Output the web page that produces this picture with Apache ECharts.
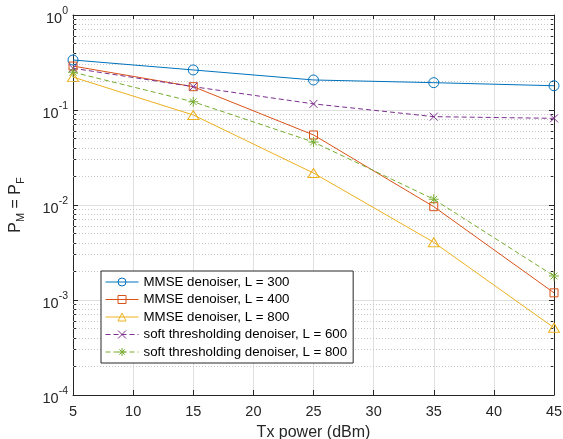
<!DOCTYPE html>
<html><head><meta charset="utf-8">
<script src="https://cdn.jsdelivr.net/npm/echarts@6/dist/echarts.min.js"></script>
<style>html,body{margin:0;padding:0;background:#fff}#c{width:563px;height:439px}</style>
</head><body><div id="c"></div>
<script>
const txPower = [5, 15, 25, 35, 45];
const mmseL300 = [0.336, 0.264, 0.207, 0.194, 0.180];
const mmseL400 = [0.290, 0.176, 0.0546, 0.0096, 0.00119];
const mmseL800 = [0.222, 0.0886, 0.0217, 0.00405, 0.00051];
const softL600 = [0.275, 0.176, 0.116, 0.0851, 0.0817];
const softL800 = [0.250, 0.122, 0.046, 0.0115, 0.00179];
const seriesNames = ['MMSE denoiser, L = 300', 'MMSE denoiser, L = 400', 'MMSE denoiser, L = 800',
  'soft thresholding denoiser, L = 600', 'soft thresholding denoiser, L = 800'];
const minorVals = [];
for (let d = -4; d < 0; d++) for (let k = 2; k <= 9; k++) minorVals.push(+(k * Math.pow(10, d)).toPrecision(3));

const FONT = '"Liberation Sans", Arial, Helvetica, sans-serif';
const TXT = '#262626';
const AX = '#262626';
const colors = ['#0072BD', '#D95319', '#EDB120', '#7E2F8E', '#77AC30'];
const symCircle = 'path://M10,5A5,5,0,1,1,0,5A5,5,0,1,1,10,5Z';
const symSquare = 'path://M0,0L10,0L10,10L0,10Z';
const symTri = 'path://M5,0L10,9L0,9Z';
const symX = 'path://M0,0L10,10M10,0L0,10';
const symStar = 'path://M5,0L5,10M0,5L10,5M1.6,1.6L8.4,8.4M8.4,1.6L1.6,8.4';

function pts(arr) { return txPower.map((x, i) => [x, arr[i]]); }
function mk(name, arr, color, symbol, size, dashed) {
  return {
    name, type: 'line', data: pts(arr), xAxisIndex: 0, yAxisIndex: 0,
    symbol, symbolSize: size, showAllSymbol: true,
    lineStyle: { color, width: 1, type: dashed ? [5, 3] : 'solid' },
    itemStyle: { color: 'rgba(0,0,0,0)', borderColor: color, borderWidth: 1 },
    emphasis: { disabled: true }, z: 3
  };
}

const chart = echarts.init(document.getElementById('c'), null, { renderer: 'canvas' });
const hiddenAxisBase = { type: 'log', logBase: 10, min: 1e-4, max: 1, axisLabel: { show: false }, splitLine: { show: false } };
chart.setOption({
  animation: false,
  backgroundColor: '#fff',
  textStyle: { fontFamily: FONT },
  grid: { left: 73, right: 9, top: 15, bottom: 44, containLabel: false, outerBoundsMode: 'none' },
  legend: {
    orient: 'vertical', left: 101, top: 271,
    data: seriesNames,
    backgroundColor: '#fff', borderColor: AX, borderWidth: 1,
    padding: [4, 6, 4, 4], itemWidth: 33, itemHeight: 10, itemGap: 3.5,
    lineStyle: { width: 1 },
    itemStyle: { borderWidth: 1 },
    textStyle: { fontFamily: FONT, fontSize: 13.3, lineHeight: 14, color: '#000' }
  },
  xAxis: [
    {
      type: 'value', min: 5, max: 45, interval: 5, position: 'bottom',
      axisLine: { lineStyle: { color: AX, width: 1 } },
      axisTick: { inside: true, length: 5, lineStyle: { color: AX } },
      axisLabel: { color: TXT, fontSize: 14.5, fontFamily: FONT, margin: 9 },
      splitLine: { show: true, lineStyle: { color: '#e0e0e0', width: 1 } },
      name: 'Tx power (dBm)', nameLocation: 'middle', nameGap: 30,
      nameTextStyle: { color: TXT, fontSize: 16, fontFamily: FONT }
    },
    {
      type: 'value', min: 5, max: 45, interval: 5, position: 'top',
      axisLine: { lineStyle: { color: AX, width: 1 } },
      axisTick: { inside: true, length: 5, lineStyle: { color: AX } },
      axisLabel: { show: false }, splitLine: { show: false }
    }
  ],
  yAxis: [
    {
      type: 'log', logBase: 10, min: 1e-4, max: 1, position: 'left',
      axisLine: { lineStyle: { color: AX, width: 1 } },
      axisTick: { inside: true, length: 5, lineStyle: { color: AX } },
      axisLabel: {
        color: TXT, fontFamily: FONT, margin: 5,
        formatter: v => '{b|10}{s|' + Math.round(Math.log10(v)) + '}',
        rich: {
          b: { fontSize: 14.5, color: TXT, fontFamily: FONT, padding: [8, 0, 0, 0] },
          s: { fontSize: 10.5, color: TXT, fontFamily: FONT, padding: [0, 0, 8, 0] }
        }
      },
      splitLine: { show: true, lineStyle: { color: '#e0e0e0', width: 1 } },
      name: '{i|P}{sub|M}{i| = P}{sub|F}', nameLocation: 'middle', nameGap: 47, nameRotate: 90,
      nameTextStyle: {
        rich: { i: { fontSize: 16, color: TXT, fontFamily: FONT }, sub: { fontSize: 11, color: TXT, fontFamily: FONT, padding: [10, 0, 0, 0] } }
      }
    },
    Object.assign({}, hiddenAxisBase, { position: 'right',
      axisLine: { lineStyle: { color: AX, width: 1 } },
      axisTick: { inside: true, length: 5, lineStyle: { color: AX } } }),
    Object.assign({}, hiddenAxisBase, { position: 'left',
      axisLine: { show: false },
      axisTick: { inside: true, length: 3, customValues: minorVals, lineStyle: { color: AX } } }),
    Object.assign({}, hiddenAxisBase, { position: 'right',
      axisLine: { show: false },
      axisTick: { inside: true, length: 3, customValues: minorVals, lineStyle: { color: AX } } })
  ],
  series: [
    {
      name: 'minor-grid', type: 'line', data: [], xAxisIndex: 0, yAxisIndex: 0, silent: true,
      markLine: {
        silent: true, symbol: ['none', 'none'], z: 1, animation: false, precision: 8,
        label: { show: false },
        lineStyle: { color: '#c8c8c8', width: 1, type: [1, 2] },
        emphasis: { disabled: true },
        data: minorVals.map(v => ({ yAxis: v }))
      }
    },
    mk(seriesNames[0], mmseL300, colors[0], symCircle, 10, false),
    mk(seriesNames[1], mmseL400, colors[1], symSquare, 8, false),
    mk(seriesNames[2], mmseL800, colors[2], symTri, [11, 9], false),
    mk(seriesNames[3], softL600, colors[3], symX, 8, true),
    mk(seriesNames[4], softL800, colors[4], symStar, 10, true)
  ]
});
</script></body></html>
